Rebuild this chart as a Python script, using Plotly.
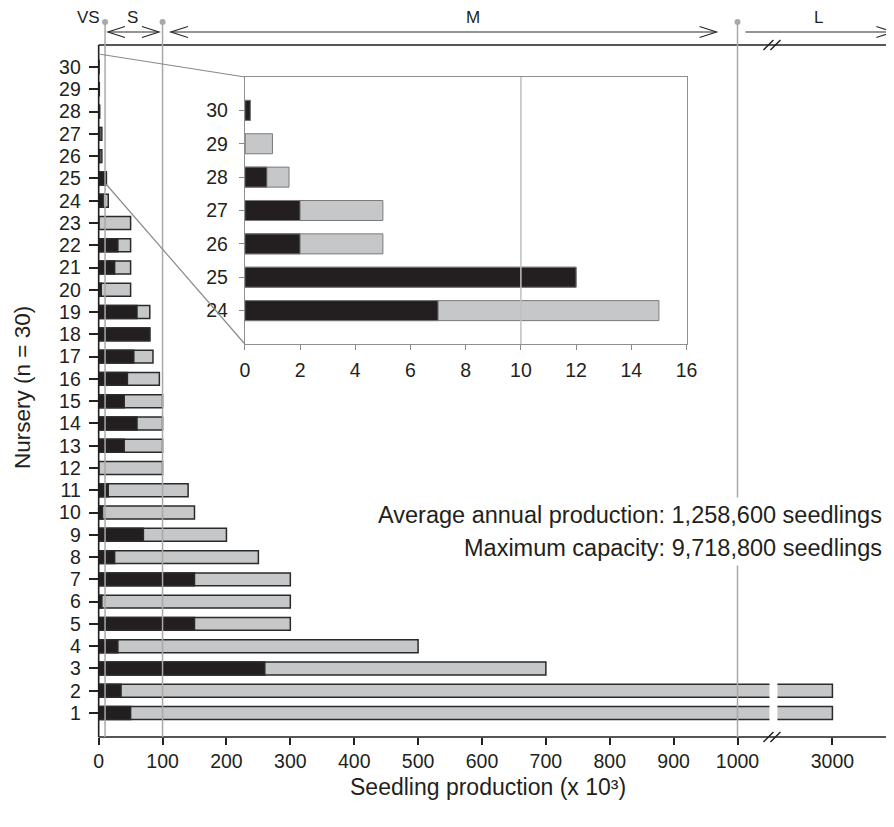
import plotly.graph_objects as go

# ---------------- data ----------------
nursery = list(range(1, 31))
# average annual production (x 10^3 seedlings) - black
production = [50, 35, 260, 30, 150, 5, 150, 25, 70, 6, 15, 0, 40, 60, 40,
              45, 55, 80, 60, 4, 25, 30, 0, 7, 12, 2, 2, 0.8, 0, 0.2]
# maximum capacity (x 10^3 seedlings) - full bar
capacity = [3000, 3000, 700, 500, 300, 300, 300, 250, 200, 150, 140, 100, 100, 100, 100,
            95, 85, 80, 80, 50, 50, 50, 50, 15, 12, 5, 5, 1.6, 1, 0.2]
main_ticks = [0, 100, 200, 300, 400, 500, 600, 700, 800, 900, 1000]
break_ticks = [3000]
inset_nursery = nursery[23:]
inset_production = production[23:]
inset_capacity = capacity[23:]
inset_ticks_x = [0, 2, 4, 6, 8, 10, 12, 14, 16]
class_bounds = [10, 100, 1000]
class_labels = ["VS", "S", "M", "L"]
summary_lines = ["Average annual production: 1,258,600 seedlings",
                 "Maximum capacity: 9,718,800 seedlings"]

# ---------------- geometry helpers (target picture pixels -> paper) ----------------
OFF = 8                      # default html body margin
W, H = 901, 827 - OFF
SX, X0 = 0.983, 4.1          # measured horizontal mapping of the screenshot
def px(x):
    page = (x - X0) / SX
    return (page - OFF) / W
def py(y):
    return 1 - (y - OFF) / H

FONT = "Liberation Sans, Arial, sans-serif"
TXT = "#231f20"
BLACK = "#231f20"
GRAY = "#c6c7c8"
EDGE = "#2a2a2a"
LINEGRAY = "#a9a9a9"

fig = go.Figure()

for xa in ["x", "x2"]:
    fig.add_trace(go.Bar(x=capacity, y=nursery, orientation="h", xaxis=xa, yaxis="y",
                         width=0.58, marker=dict(color=GRAY, line=dict(color=EDGE, width=1.5)),
                         showlegend=False, hoverinfo="skip"))
    fig.add_trace(go.Bar(x=production, y=nursery, orientation="h", xaxis=xa, yaxis="y",
                         width=0.58, marker=dict(color=BLACK, line=dict(color=EDGE, width=1.5)),
                         showlegend=False, hoverinfo="skip"))

fig.add_trace(go.Bar(x=inset_capacity, y=inset_nursery, orientation="h", xaxis="x3", yaxis="y3",
                     width=0.6, marker=dict(color=GRAY, line=dict(color="#7a7a7a", width=1)),
                     showlegend=False, hoverinfo="skip"))
fig.add_trace(go.Bar(x=inset_production, y=inset_nursery, orientation="h", xaxis="x3", yaxis="y3",
                     width=0.6, marker=dict(color=BLACK, line=dict(color="#7a7a7a", width=1)),
                     showlegend=False, hoverinfo="skip"))

tick_common = dict(ticks="outside", tickcolor="#222", tickwidth=1.5, showgrid=False,
                   zeroline=False, showline=False, tickfont=dict(family=FONT, size=19.5, color=TXT))

x2_end = 3000 + (897.6 - 832) / 0.6393
fig.update_layout(
    width=W, height=H, margin=dict(l=0, r=0, t=0, b=0),
    paper_bgcolor="white", plot_bgcolor="rgba(0,0,0,0)",
    barmode="overlay",
    font=dict(family=FONT, color=TXT),
    xaxis=dict(domain=[px(97.7), px(769)], range=[0, 1050], anchor="y",
               tickvals=main_ticks, ticklen=7, ticklabelstandoff=0, **tick_common),
    xaxis2=dict(domain=[px(777), 1], range=[2914, x2_end], anchor="y",
                tickvals=break_ticks, ticklen=7, ticklabelstandoff=0, **tick_common),
    yaxis=dict(domain=[py(737), py(45)], range=[-0.077, 30.99], anchor="x",
               tickvals=nursery, ticklen=9, ticklabelstandoff=4, **tick_common),
    xaxis3=dict(domain=[px(244), px(686)], range=[0, 16], anchor="y3",
                tickvals=inset_ticks_x, ticks="outside", ticklen=5, tickcolor="#888",
                showline=True, mirror=True, linecolor="#8f8f8f", linewidth=1,
                showgrid=False, zeroline=False, ticklabelstandoff=4,
                tickfont=dict(family=FONT, size=19.5, color=TXT)),
    yaxis3=dict(domain=[py(344), py(77)], range=[23, 31], anchor="x3",
                tickvals=inset_nursery, ticks="outside", ticklen=5, tickcolor="#888",
                showline=True, mirror=True, linecolor="#8f8f8f", linewidth=1,
                showgrid=False, zeroline=False, ticklabelstandoff=7,
                tickfont=dict(family=FONT, size=19.5, color=TXT)),
)

shapes = []
AX = dict(color="#1e1e1e", width=1.6)
shapes.append(dict(type="line", xref="paper", yref="paper", x0=px(97.7), x1=1, y0=py(737), y1=py(737), line=AX, layer="above"))
shapes.append(dict(type="line", xref="paper", yref="paper", x0=px(97.7), x1=1, y0=py(45), y1=py(45), line=AX, layer="above"))
shapes.append(dict(type="line", xref="paper", yref="paper", x0=px(97.7), x1=px(97.7), y0=py(737), y1=py(45), line=AX, layer="above"))
for yb in [737, 45]:
    for dx in [0, 7]:
        shapes.append(dict(type="line", xref="paper", yref="paper",
                           x0=px(763 + dx), x1=px(773 + dx), y0=py(yb + 5), y1=py(yb - 5),
                           line=dict(color="#1e1e1e", width=1.4), layer="above"))

for b in class_bounds:
    shapes.append(dict(type="line", xref="x", yref="paper", x0=b, x1=b, y0=py(737), y1=py(22),
                       line=dict(color=LINEGRAY, width=1.5), layer="above"))
    shapes.append(dict(type="circle", xref="x", yref="paper", xsizemode="pixel", ysizemode="pixel",
                       xanchor=b, yanchor=py(22), x0=-3, x1=3, y0=-3, y1=3,
                       fillcolor=LINEGRAY, line=dict(color=LINEGRAY, width=0), layer="above"))

shapes.append(dict(type="line", xref="x3", yref="y3 domain", x0=10, x1=10, y0=0, y1=1,
                   line=dict(color="#c0c0c0", width=1.5), layer="above"))

CON = dict(color="#8a8a8a", width=1.2)
shapes.append(dict(type="line", xref="paper", yref="paper", x0=px(97.7), y0=py(54), x1=px(244), y1=py(77), line=CON, layer="above"))
shapes.append(dict(type="line", xref="paper", yref="paper", x0=px(105), y0=py(184), x1=px(244), y1=py(344), line=CON, layer="above"))

ARW = dict(color="#2a2a2a", width=1.2)
def chevron(xtip, y, d, L=17, h=5.5):
    xb = xtip - d * L
    return dict(type="path", xref="paper", yref="paper",
                path=f"M {px(xb)},{py(y - h)} L {px(xtip)},{py(y)} L {px(xb)},{py(y + h)}",
                line=ARW, layer="above")
ya = 32
for (a, b_, heads) in [(107, 158, "both"), (170, 716, "both"), (745, 893, "right")]:
    shapes.append(dict(type="line", xref="paper", yref="paper", x0=px(a), x1=px(b_), y0=py(ya), y1=py(ya), line=ARW, layer="above"))
    if heads == "both":
        shapes.append(chevron(a, ya, -1))
    shapes.append(chevron(b_, ya, 1))

annotations = []
for lab, xc in zip(class_labels, [88, 132, 472, 818]):
    annotations.append(dict(text=lab, xref="paper", yref="paper", x=px(xc), y=py(18),
                            showarrow=False, xanchor="center", yanchor="middle",
                            font=dict(family=FONT, size=17, color=TXT)))
for line_txt, yc in zip(summary_lines, [515, 548]):
    annotations.append(dict(text=line_txt, xref="paper", yref="paper", x=px(887), y=py(yc),
                            showarrow=False, xanchor="right", yanchor="middle",
                            bgcolor="white", borderpad=4,
                            font=dict(family=FONT, size=23.5, color=TXT)))
annotations.append(dict(text="Seedling production (x 10³)", xref="paper", yref="paper",
                        x=px(487), y=py(787), showarrow=False, xanchor="center", yanchor="middle",
                        font=dict(family=FONT, size=23, color=TXT)))
annotations.append(dict(text="Nursery (n = 30)", xref="paper", yref="paper",
                        x=px(21), y=py(388), showarrow=False, textangle=-90,
                        xanchor="center", yanchor="middle",
                        font=dict(family=FONT, size=22.5, color=TXT)))

fig.update_layout(shapes=shapes, annotations=annotations)
fig.write_html("out.html", config={"displayModeBar": False})
